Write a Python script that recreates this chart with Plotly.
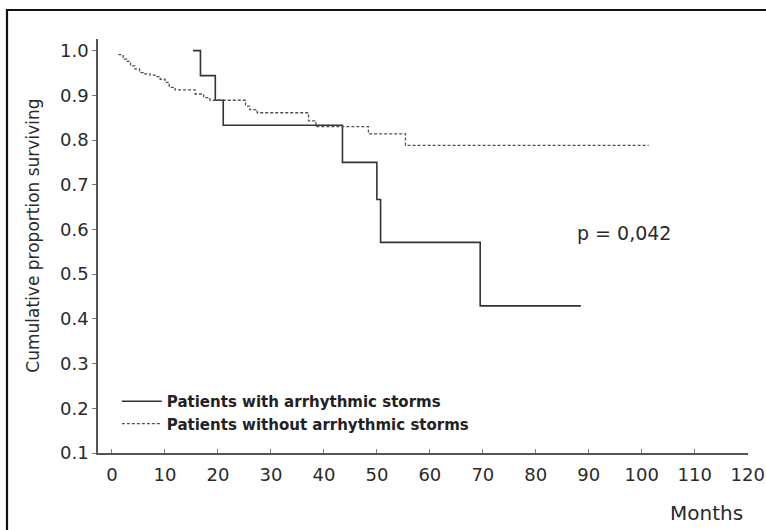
import plotly.graph_objects as go

# Kaplan-Meier estimates (months, cumulative proportion surviving)
with_storm_months = [15.3, 16.7, 19.5, 21.0, 43.5, 50.0, 50.7, 69.5, 88.5]
with_storm_surv = [1.000, 0.944, 0.889, 0.833, 0.750, 0.667, 0.571, 0.429, 0.429]

without_storm_months = [1.2, 2.1, 2.8, 3.5, 4.3, 5.2, 5.9, 7.2, 8.1, 9.1, 10.0, 10.8,
                        11.9, 15.7, 17.3, 18.5, 25.2, 26.0, 27.4, 37.1, 38.5, 48.4,
                        55.4, 101.3]
without_storm_surv = [0.991, 0.981, 0.976, 0.966, 0.959, 0.951, 0.948, 0.945, 0.942,
                      0.936, 0.929, 0.918, 0.912, 0.903, 0.895, 0.889, 0.876, 0.868,
                      0.861, 0.843, 0.830, 0.814, 0.788, 0.788]

series_names = ["Patients with arrhythmic storms", "Patients without arrhythmic storms"]
x_ticks = list(range(0, 121, 10))
y_ticks = [0.1, 0.2, 0.3, 0.4, 0.5, 0.6, 0.7, 0.8, 0.9, 1.0]
y_tick_labels = ["0.1", "0.2", "0.3", "0.4", "0.5", "0.6", "0.7", "0.8", "0.9", "1.0"]
p_text = "p = 0,042"
x_title = "Months"
y_title = "Cumulative proportion surviving"

FONT = "DejaVu Sans, Liberation Sans, Arial, sans-serif"
TEXT = "#2a2a2a"

fig = go.Figure()
fig.add_trace(go.Scatter(
    x=with_storm_months, y=with_storm_surv, mode="lines", line_shape="hv",
    name=series_names[0], line=dict(color="#333333", width=1.6),
))
fig.add_trace(go.Scatter(
    x=without_storm_months, y=without_storm_surv, mode="lines", line_shape="hv",
    name=series_names[1], line=dict(color="#505050", width=1.3, dash="3px,2px"),
))

fig.add_annotation(
    x=96.6, y=0.592, xref="x", yref="y", text=p_text, showarrow=False,
    font=dict(family=FONT, size=19, color=TEXT),
)

# axis titles
fig.add_annotation(
    x=0.996, y=-0.145, xref="paper", yref="paper", xanchor="right", yanchor="middle",
    text=x_title, showarrow=False, font=dict(family=FONT, size=20, color=TEXT),
)
fig.add_annotation(
    x=-0.1, y=0.525, xref="paper", yref="paper", xanchor="center", yanchor="middle",
    text=y_title, textangle=-90, showarrow=False,
    font=dict(family=FONT, size=17, color=TEXT),
)

# frame around the whole figure (left and top edges visible)
fig.add_shape(
    type="rect", xref="paper", yref="paper",
    x0=-0.14, x1=1.06, y0=-0.25, y1=1.070,
    line=dict(color="#111111", width=2.2), fillcolor="rgba(0,0,0,0)", layer="below",
)

fig.update_layout(
    width=766, height=530,
    margin=dict(l=98, r=18, t=39, b=77, autoexpand=False),
    paper_bgcolor="white", plot_bgcolor="white",
    font=dict(family=FONT, color=TEXT),
    showlegend=True,
    legend=dict(
        x=0.029, y=0.098, xanchor="left", yanchor="middle",
        bgcolor="rgba(0,0,0,0)",
        font=dict(family=FONT, size=15, color="#222222", weight="bold"),
        tracegroupgap=0, itemwidth=40,
    ),
    xaxis=dict(
        range=[-2.64, 120.05], tickvals=x_ticks, showgrid=False, zeroline=False,
        showline=True, linecolor="#555555", linewidth=1.5, automargin=False,
        ticks="inside", ticklen=4, tickcolor="#777777", ticklabelstandoff=5,
        tickfont=dict(family=FONT, size=18, color=TEXT),
    ),
    yaxis=dict(
        range=[0.1, 1.026], tickvals=y_ticks, ticktext=y_tick_labels,
        showgrid=False, zeroline=False, automargin=False,
        showline=True, linecolor="#555555", linewidth=1.5,
        ticks="outside", ticklen=4, tickcolor="#777777",
        tickfont=dict(family=FONT, size=18, color=TEXT),
    ),
)

fig.write_html("out.html")
